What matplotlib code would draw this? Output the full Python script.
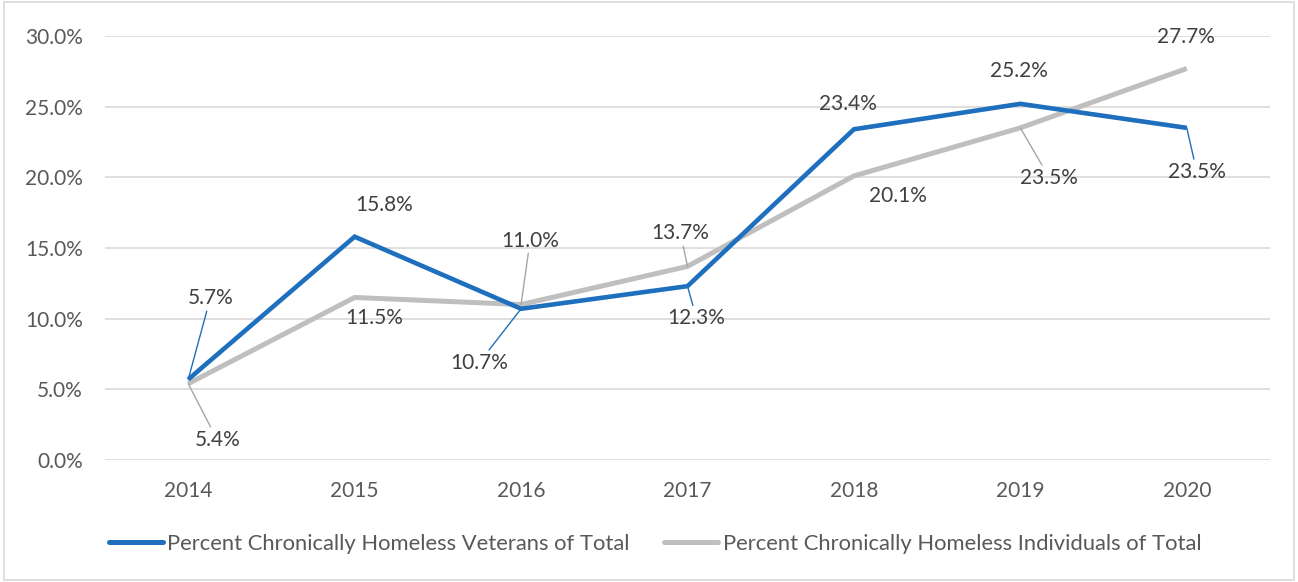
import matplotlib
matplotlib.use("Agg")
import matplotlib.pyplot as plt
from matplotlib.patches import Rectangle

plt.rcParams['font.family'] = ['Lato', 'DejaVu Sans']

years = ["2014", "2015", "2016", "2017", "2018", "2019", "2020"]
veterans = [5.7, 15.8, 10.7, 12.3, 23.4, 25.2, 23.5]
individuals = [5.4, 11.5, 11.0, 13.7, 20.1, 23.5, 27.7]
yticks = [0, 5, 10, 15, 20, 25, 30]

BLUE = "#1F6FBF"
GRAY = "#BFBFBF"
FS = 15
LFS = 15.8

fig = plt.figure(figsize=(12.98, 5.82), dpi=100)
ax = fig.add_axes([105/1298, 1-460/582, (1270-105)/1298, (460-36)/582])

x = list(range(len(years)))
ax.plot(x, veterans, color=BLUE, lw=3.3, solid_joinstyle='miter', solid_capstyle='butt',
        label="Percent Chronically Homeless Veterans of Total", zorder=3)
ax.plot(x, individuals, color=GRAY, lw=3.6, solid_joinstyle='miter', solid_capstyle='butt',
        label="Percent Chronically Homeless Individuals of Total", zorder=2)

ax.set_xlim(-0.5, len(years) - 0.5)
ax.set_ylim(0, 30)
ax.set_yticks(yticks)
ax.set_yticklabels([f"{v:.1f}%" for v in yticks])
ax.set_xticks(x)
ax.set_xticklabels(years)
ax.tick_params(length=0, labelsize=FS, labelcolor="#595959")
ax.tick_params(axis='y', pad=16)
ax.tick_params(axis='x', pad=15)
ax.grid(axis='y', color="#D9D9D9", lw=1.2)
ax.set_axisbelow(True)
for s in ax.spines.values():
    s.set_visible(False)

# label offsets (pixels) and leader flags
v_off = [(22, 81), (29, 32), (-42, -54), (9, -32), (-6, 25), (-1, 33), (10, -44)]
v_lead = [True, False, True, True, False, False, True]
i_off = [(29, -56), (20, -21), (9, 64), (-7, 33), (44, -20), (29, -50), (-1, 32)]
i_lead = [True, False, True, True, False, True, False]

def label(series, offs, leads, color):
    for xi, v, off, ld in zip(x, series, offs, leads):
        kw = {}
        if ld:
            kw['arrowprops'] = dict(arrowstyle='-', color=color, lw=1.0, shrinkA=0, shrinkB=0)
        ax.annotate(f"{v:.1f}%", xy=(xi, v), xytext=off, textcoords='offset pixels',
                    ha='center', va='center', fontsize=FS, color="#404040", zorder=5, **kw)

label(veterans, v_off, v_lead, BLUE)
label(individuals, i_off, i_lead, "#A6A6A6")

leg = fig.legend(loc='center', bbox_to_anchor=(655/1298, 1-544/582), ncol=2, frameon=False,
                 fontsize=LFS, handlelength=2.45, handletextpad=0.22, columnspacing=1.55)
for t in leg.get_texts():
    t.set_color("#595959")
for h in leg.get_lines():
    h.set_linewidth(3.6)
    h.set_solid_capstyle('round')

fig.patches.append(Rectangle((0.003, 0.004), 0.994, 0.992, transform=fig.transFigure,
                             fill=False, edgecolor="#D9D9D9", lw=1.2))

fig.savefig("out.png", dpi=100)
